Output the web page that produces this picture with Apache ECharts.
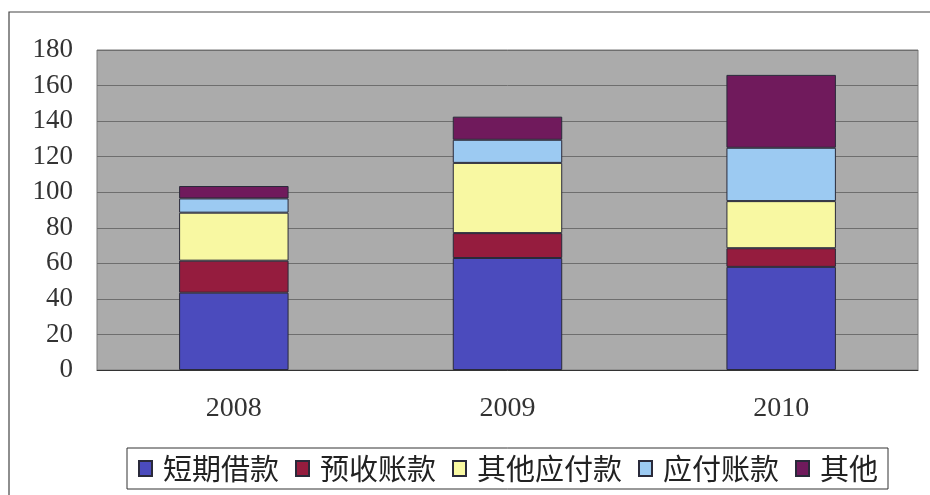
<!DOCTYPE html>
<html>
<head>
<meta charset="utf-8">
<script src="https://cdn.jsdelivr.net/npm/echarts@6/dist/echarts.min.js"></script>
<style>
  html, body { margin: 0; padding: 0; background: #fff; }
  #chart { width: 930px; height: 495px; }
</style>
</head>
<body>
<div id="chart"></div>
<script>
// Year categories and liability components (stacked)
const years = ['2008', '2009', '2010'];
const shortLoans = [43.5, 63, 58];       // 短期借款
const advanceReceipts = [18, 14, 10.5];  // 预收账款
const otherPayables = [27, 39.5, 26.5];  // 其他应付款
const accountsPayable = [8, 13, 30];     // 应付账款
const others = [7, 13, 41];              // 其他

const seriesNames = ['短期借款', '预收账款', '其他应付款', '应付账款', '其他'];
const seriesData = [shortLoans, advanceReceipts, otherPayables, accountsPayable, others];
const seriesColors = ['#4b4bbd', '#951c3e', '#f8f8a2', '#9ccaf2', '#701a5c'];

const chart = echarts.init(document.getElementById('chart'), null, { renderer: 'canvas' });

chart.setOption({
  animation: false,
  backgroundColor: '#ffffff',
  graphic: [
    {
      type: 'rect',
      shape: { x: 9, y: 12, width: 940, height: 500 },
      style: { fill: 'none', stroke: '#444', lineWidth: 1.2 },
      silent: true
    }
  ],
  grid: {
    left: 97, right: 12, top: 50, bottom: 125,
    show: true,
    backgroundColor: '#ababab',
    borderColor: '#7a7a7a',
    borderWidth: 1
  },
  legend: {
    data: seriesNames,
    left: 127, top: 448,
    itemWidth: 13, itemHeight: 15,
    itemGap: 16,
    padding: [6, 10, 6, 11],
    borderColor: '#333', borderWidth: 1,
    backgroundColor: '#fff',
    textStyle: { fontFamily: 'Noto Sans CJK SC', fontSize: 29, color: '#222', padding: [0, 0, 0, 6] },
    icon: 'rect'
  },
  xAxis: {
    type: 'category',
    data: years,
    axisLine: { show: true, lineStyle: { color: '#333', width: 1 } },
    axisTick: { show: false },
    axisLabel: { fontFamily: 'Liberation Serif', fontSize: 28, color: '#333', margin: 25 }
  },
  yAxis: {
    type: 'value',
    min: 0, max: 180, interval: 20,
    axisLine: { show: false },
    axisTick: { show: false },
    splitLine: { show: true, lineStyle: { color: '#6e6e6e', width: 1 } },
    axisLabel: { fontFamily: 'Liberation Serif', fontSize: 27, color: '#333', margin: 24 }
  },
  series: seriesNames.map((name, i) => ({
    name: name,
    type: 'bar',
    stack: 'total',
    barWidth: '40%',
    data: seriesData[i],
    itemStyle: { color: seriesColors[i], borderColor: '#2a2a3a', borderWidth: 1 }
  }))
});
</script>
</body>
</html>
